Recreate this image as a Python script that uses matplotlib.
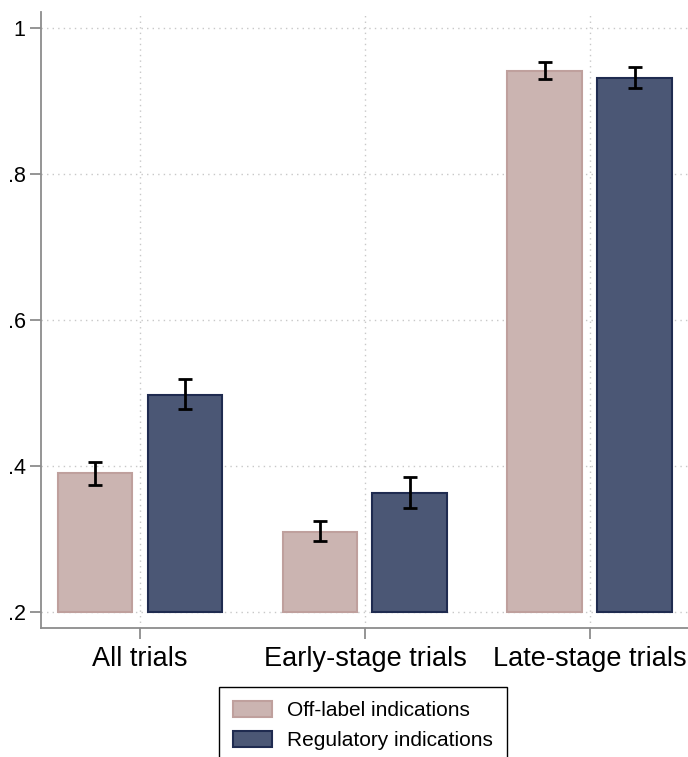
import numpy as np
import matplotlib
matplotlib.use('Agg')
from matplotlib import pyplot as plt
from matplotlib.patches import Patch

plt.rcParams['font.family'] = ['Liberation Sans', 'DejaVu Sans']

# shares by trial group, with 95% CI bounds
groups = ['All trials', 'Early-stage trials', 'Late-stage trials']
offlabel = [0.390, 0.310, 0.941]
offlabel_lo = [0.374, 0.297, 0.930]
offlabel_hi = [0.405, 0.324, 0.953]
regulatory = [0.497, 0.363, 0.931]
regulatory_lo = [0.478, 0.342, 0.918]
regulatory_hi = [0.519, 0.385, 0.946]
yticks = [0.2, 0.4, 0.6, 0.8, 1.0]
ylabels = ['.2', '.4', '.6', '.8', '1']

base = 0.2
pink = '#cbb4b1'
pink_edge = '#bfa09d'
navy = '#4b5775'
navy_edge = '#1f2b50'

fig = plt.figure(figsize=(6.88, 7.57), dpi=100)
ax = fig.add_axes([41/688, 1 - 628/757, 1 - 41/688, (628 - 12)/757])

x = np.arange(len(groups))
w = 0.333
off = np.array(offlabel)
reg = np.array(regulatory)

ax.bar(x - 0.2, off - base, w, bottom=base, color=pink, edgecolor=pink_edge, linewidth=1.5, zorder=2)
ax.bar(x + 0.2, reg - base, w, bottom=base, color=navy, edgecolor=navy_edge, linewidth=1.5, zorder=2)

off_err = [off - np.array(offlabel_lo), np.array(offlabel_hi) - off]
reg_err = [reg - np.array(regulatory_lo), np.array(regulatory_hi) - reg]
ax.errorbar(x - 0.2, off, yerr=off_err, fmt='none', ecolor='black', elinewidth=2, capsize=5, capthick=2, zorder=3)
ax.errorbar(x + 0.2, reg, yerr=reg_err, fmt='none', ecolor='black', elinewidth=2, capsize=5, capthick=2, zorder=3)

ax.set_xlim(-0.44, 2.436)
ax.set_ylim(0.2 - 16/730, 1 + 16/730)
ax.set_xticks(x)
ax.set_xticklabels(groups, fontsize=19.5)
ax.set_yticks(yticks)
ax.set_yticklabels(ylabels, fontsize=15.5)

ax.grid(True, linestyle=(0, (1, 3)), color='#c8c8c8', linewidth=1, zorder=0)
ax.set_axisbelow(True)

for s in ['top', 'right']:
    ax.spines[s].set_visible(False)
for s in ['left', 'bottom']:
    ax.spines[s].set_color('#8c8c8c')
    ax.spines[s].set_linewidth(1.3)
ax.tick_params(axis='both', direction='out', length=8, width=1.3, color='#8c8c8c', pad=3)
ax.tick_params(axis='x', pad=5)

handles = [Patch(facecolor=pink, edgecolor=pink_edge, linewidth=1.5),
           Patch(facecolor=navy, edgecolor=navy_edge, linewidth=1.5)]
leg = fig.legend(handles, ['Off-label indications', 'Regulatory indications'],
                 loc='upper left', bbox_to_anchor=(219/688, 1 - 687/757),
                 fontsize=15, fancybox=False, framealpha=1, edgecolor='black',
                 handlelength=1.85, handleheight=0.8, handletextpad=0.72,
                 labelspacing=0.5, borderpad=0.68, borderaxespad=0)
leg.get_frame().set_linewidth(1)

fig.savefig('out.png', dpi=100)
